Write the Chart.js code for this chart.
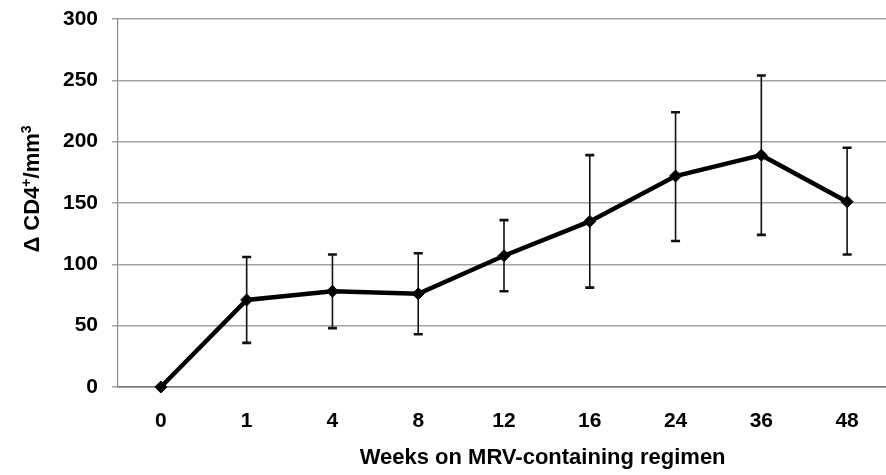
<!DOCTYPE html>
<html>
<head>
<meta charset="utf-8">
<script src="https://cdn.jsdelivr.net/npm/chart.js@4/dist/chart.umd.min.js"></script>
<style>
  html, body { margin: 0; padding: 0; background: #fff; overflow: hidden; }
  #wrap { width: 886px; height: 475px; overflow: hidden; }
</style>
</head>
<body>
<div id="wrap"><canvas id="cd4Chart" width="897" height="475"></canvas></div>
<script>
// weeks on regimen and mean change in CD4 count with its bars
const weeks = ["0", "1", "4", "8", "12", "16", "24", "36", "48"];
const meanChange = [0, 71, 78, 76, 107, 135, 172, 189, 151];
const upperBound = [0, 106, 108, 109, 136, 189, 224, 254, 195];
const lowerBound = [0, 36, 48, 43, 78, 81, 119, 124, 108];
const yTicks = [0, 50, 100, 150, 200, 250, 300];

const xTitle = "Weeks on MRV-containing regimen";
const FONT = '"Liberation Sans", Arial, sans-serif';

const ctx = document.getElementById("cd4Chart").getContext("2d");

// vertical error bars with flat caps, drawn under the line
const errorBars = {
  id: "errorBars",
  beforeDatasetsDraw(chart) {
    const { ctx, scales } = chart;
    ctx.save();
    ctx.strokeStyle = "#111";
    weeks.forEach((w, i) => {
      if (upperBound[i] === lowerBound[i]) return;
      const x = scales.x.getPixelForValue(i);
      const yTop = scales.y.getPixelForValue(upperBound[i]);
      const yBot = scales.y.getPixelForValue(lowerBound[i]);
      ctx.lineWidth = 1.6;
      ctx.beginPath();
      ctx.moveTo(x, yTop);
      ctx.lineTo(x, yBot);
      ctx.stroke();
      ctx.lineWidth = 2.6;
      ctx.beginPath();
      ctx.moveTo(x - 4.5, yTop);
      ctx.lineTo(x + 4.5, yTop);
      ctx.moveTo(x - 4.5, yBot);
      ctx.lineTo(x + 4.5, yBot);
      ctx.stroke();
    });
    ctx.restore();
  },
};

// axis titles, the y one with raised "+" and "3"
const axisTitles = {
  id: "axisTitles",
  afterDraw(chart) {
    const { ctx, chartArea } = chart;
    ctx.save();
    ctx.fillStyle = "#000";
    ctx.textBaseline = "alphabetic";

    ctx.font = "bold 22px " + FONT;
    ctx.textAlign = "center";
    const cx = chartArea.left + (chartArea.right - chartArea.left) * 0.55;
    ctx.fillText(xTitle, cx, 464);

    const parts = [
      { t: "\u0394 CD4", size: 22, rise: 0 },
      { t: "+", size: 14, rise: 8 },
      { t: "/mm", size: 22, rise: 0 },
      { t: "3", size: 14, rise: 8 },
    ];
    let total = 0;
    parts.forEach((p) => {
      ctx.font = "bold " + p.size + "px " + FONT;
      p.w = ctx.measureText(p.t).width;
      total += p.w;
    });
    ctx.translate(39, 189);
    ctx.rotate(-Math.PI / 2);
    ctx.textAlign = "left";
    let x = -total / 2;
    parts.forEach((p) => {
      ctx.font = "bold " + p.size + "px " + FONT;
      ctx.fillText(p.t, x, -p.rise);
      x += p.w;
    });
    ctx.restore();
  },
};

new Chart(ctx, {
  type: "line",
  data: {
    labels: weeks,
    datasets: [
      {
        data: meanChange,
        borderColor: "#000",
        backgroundColor: "#000",
        borderWidth: 4.5,
        tension: 0,
        clip: false,
        pointStyle: "rectRot",
        pointRadius: 6,
        pointBackgroundColor: "#000",
        pointBorderColor: "#000",
        pointBorderWidth: 1,
      },
    ],
  },
  options: {
    responsive: false,
    animation: false,
    layout: { padding: { top: 19, right: 0, bottom: 0, left: 0 } },
    plugins: {
      legend: { display: false },
      tooltip: { enabled: false },
    },
    scales: {
      x: {
        offset: true,
        grid: { display: false, drawTicks: false },
        border: { display: true, color: "#777", width: 1.5 },
        ticks: {
          color: "#000",
          padding: 22,
          font: { family: FONT, size: 21, weight: "bold" },
        },
        afterFit(scale) {
          scale.height = 88;
        },
      },
      y: {
        min: 0,
        max: 300,
        afterBuildTicks(scale) {
          scale.ticks = yTicks.map((v) => ({ value: v }));
        },
        grid: {
          color: "#a3a3a3",
          lineWidth: 1.5,
          tickLength: 6,
        },
        border: { display: true, color: "#8c8c8c", width: 1.2 },
        ticks: {
          color: "#000",
          padding: 14,
          font: { family: FONT, size: 21, weight: "bold" },
        },
        afterFit(scale) {
          scale.width = 118;
          scale.paddingTop = 0;
          scale.paddingBottom = 0;
        },
      },
    },
  },
  plugins: [errorBars, axisTitles],
});
</script>
</body>
</html>
